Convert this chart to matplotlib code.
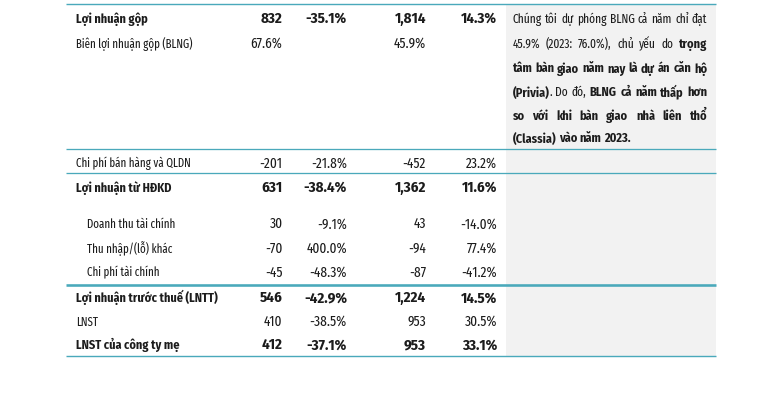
import matplotlib
matplotlib.use("Agg")
import matplotlib.pyplot as plt
from matplotlib.patches import Rectangle

# ---------------- data ----------------
labels = ["Lợi nhuận gộp", "Biên lợi nhuận gộp (BLNG)", "Chi phí bán hàng và QLDN",
          "Lợi nhuận từ HĐKD", "Doanh thu tài chính", "Thu nhập/(lỗ) khác",
          "Chi phí tài chính", "Lợi nhuận trước thuế (LNTT)", "LNST",
          "LNST của công ty mẹ"]
value_9m = [832, 67.6, -201, 631, 30, -70, -45, 546, 410, 412]
growth_9m = [-35.1, None, -21.8, -38.4, -9.1, 400.0, -48.3, -42.9, -38.5, -37.1]
value_fy = [1814, 45.9, -452, 1362, 43, -94, -87, 1224, 953, 953]
growth_fy = [14.3, None, 23.2, 11.6, -14.0, 77.4, -41.2, 14.5, 30.5, 33.1]
bold_rows = [True, False, False, True, False, False, False, True, False, True]
indent_rows = [False, False, False, False, True, True, True, False, False, False]
margin_rows = [False, True, False, False, False, False, False, False, False, False]

comment_lines = [
    "Chúng tôi dự phóng BLNG cả năm chỉ đạt",
    "45.9% (2023: 76.0%), chủ yếu do **trọng**",
    "**tâm bàn giao năm nay là dự án căn hộ**",
    "**(Privia)**. Do đó, **BLNG cả năm thấp hơn**",
    "**so với khi bàn giao nhà liên thổ**",
    "**(Classia) vào năm 2023.**",
]

# ---------------- layout ----------------
W, H = 765, 418
fig = plt.figure(figsize=(W / 100, H / 100), dpi=100)
ax = fig.add_axes([0, 0, 1, 1])
ax.set_xlim(0, W)
ax.set_ylim(H, 0)
ax.axis("off")
renderer = fig.canvas.get_renderer()

FAM_R = ["Fira Sans Extra Condensed", "Fira Sans Condensed", "DejaVu Sans"]
FAM_B = ["Fira Sans Condensed", "DejaVu Sans"]
TXT = "#1c1c1c"
LINE = "#4aa9bb"


def fam(bold):
    return FAM_B if bold else FAM_R


def measure(s, bold, size):
    t = ax.text(0, 0, s, fontsize=size, fontweight="bold" if bold else "normal",
                family=fam(bold), fontstretch="condensed")
    w = t.get_window_extent(renderer).width
    t.remove()
    return w


def clamp(v, lo, hi):
    return max(lo, min(hi, v))


# fit font sizes to the widths of reference labels
FS_R = 10 * 117.0 / measure("Biên lợi nhuận gộp (BLNG)", False, 10)
FS_B = 10 * 142.0 / measure("Lợi nhuận trước thuế (LNTT)", True, 10)
NUM_SCALE = 1.22


def put(x, y, s, bold, ha, size):
    ax.text(x, y, s, fontsize=size, fontweight="bold" if bold else "normal",
            family=fam(bold), fontstretch="condensed", color=TXT, ha=ha,
            va="baseline", zorder=3)


x_left = 66
x_right = 716
gray_x0 = 506

ax.add_patch(Rectangle((gray_x0, 4), x_right - gray_x0, 352, facecolor="#f2f2f2",
                       edgecolor="none", zorder=0))

for y, lw in [(4, 1.4), (148.5, 1.3), (173, 1.3), (284.5, 2.6), (356, 1.4)]:
    ax.plot([x_left, x_right], [y, y], color=LINE, lw=lw * 0.72,
            solid_capstyle="butt", zorder=2)

row_base = [23.0, 48.0, 167.5, 191.7, 228.5, 252.5, 276.7, 302.3, 325.8, 349.3]
col_x = [282.5, 347, 426, 497]

for i, lab in enumerate(labels):
    y = row_base[i]
    b = bold_rows[i]
    fl = FS_B if b else FS_R
    fn = fl * NUM_SCALE
    put(87 if indent_rows[i] else 76, y, lab, b, "left", fl)
    if margin_rows[i]:
        put(col_x[0], y, f"{value_9m[i]:.1f}%", b, "right", fn)
        put(col_x[2], y, f"{value_fy[i]:.1f}%", b, "right", fn)
    else:
        put(col_x[0], y, f"{value_9m[i]:,.0f}", b, "right", fn)
        put(col_x[2], y, f"{value_fy[i]:,.0f}", b, "right", fn)
    if growth_9m[i] is not None:
        put(col_x[1], y, f"{growth_9m[i]:.1f}%", b, "right", fn)
    if growth_fy[i] is not None:
        put(col_x[3], y, f"{growth_fy[i]:.1f}%", b, "right", fn)


# ---------------- justified comment paragraph ----------------
def parse_words(line):
    words = [[]]
    for k, seg in enumerate(line.split("**")):
        bold = k % 2 == 1
        toks = seg.split(" ")
        for j, tok in enumerate(toks):
            if j > 0:
                words.append([])
            if tok:
                words[-1].append((tok, bold))
    return [w for w in words if w]


px0, px1 = 512.5, 707.5
para_base = [23.3, 48.0, 72.5, 96.5, 120.3, 142.5]

# paragraph sizes: regular from line 1, bold from line 3 (natural width ~ box width)
PR = clamp(FS_R * 191.0 / measure(comment_lines[0], False, FS_R), FS_R, FS_R * 1.3)
PB = clamp(FS_B * 191.0 / measure(comment_lines[2].replace("**", ""), True, FS_B),
           FS_B, FS_B * 1.25)


def psize(bold):
    return PB if bold else PR


def space_w(bold):
    return measure("a a", bold, psize(bold)) - measure("aa", bold, psize(bold))


for li, line in enumerate(comment_lines):
    words = parse_words(line)
    widths = []
    for w in words:
        widths.append(sum(measure(t, b, psize(b)) for t, b in w))
    last = li == len(comment_lines) - 1
    if last or len(words) < 2:
        gap = space_w(words[0][0][1])
    else:
        gap = (px1 - px0 - sum(widths)) / (len(words) - 1)
    x = px0
    for w, ww in zip(words, widths):
        xx = x
        for t, b in w:
            put(xx, para_base[li], t, b, "left", psize(b))
            xx += measure(t, b, psize(b))
        x += ww + gap

fig.savefig("out.png", dpi=100)
